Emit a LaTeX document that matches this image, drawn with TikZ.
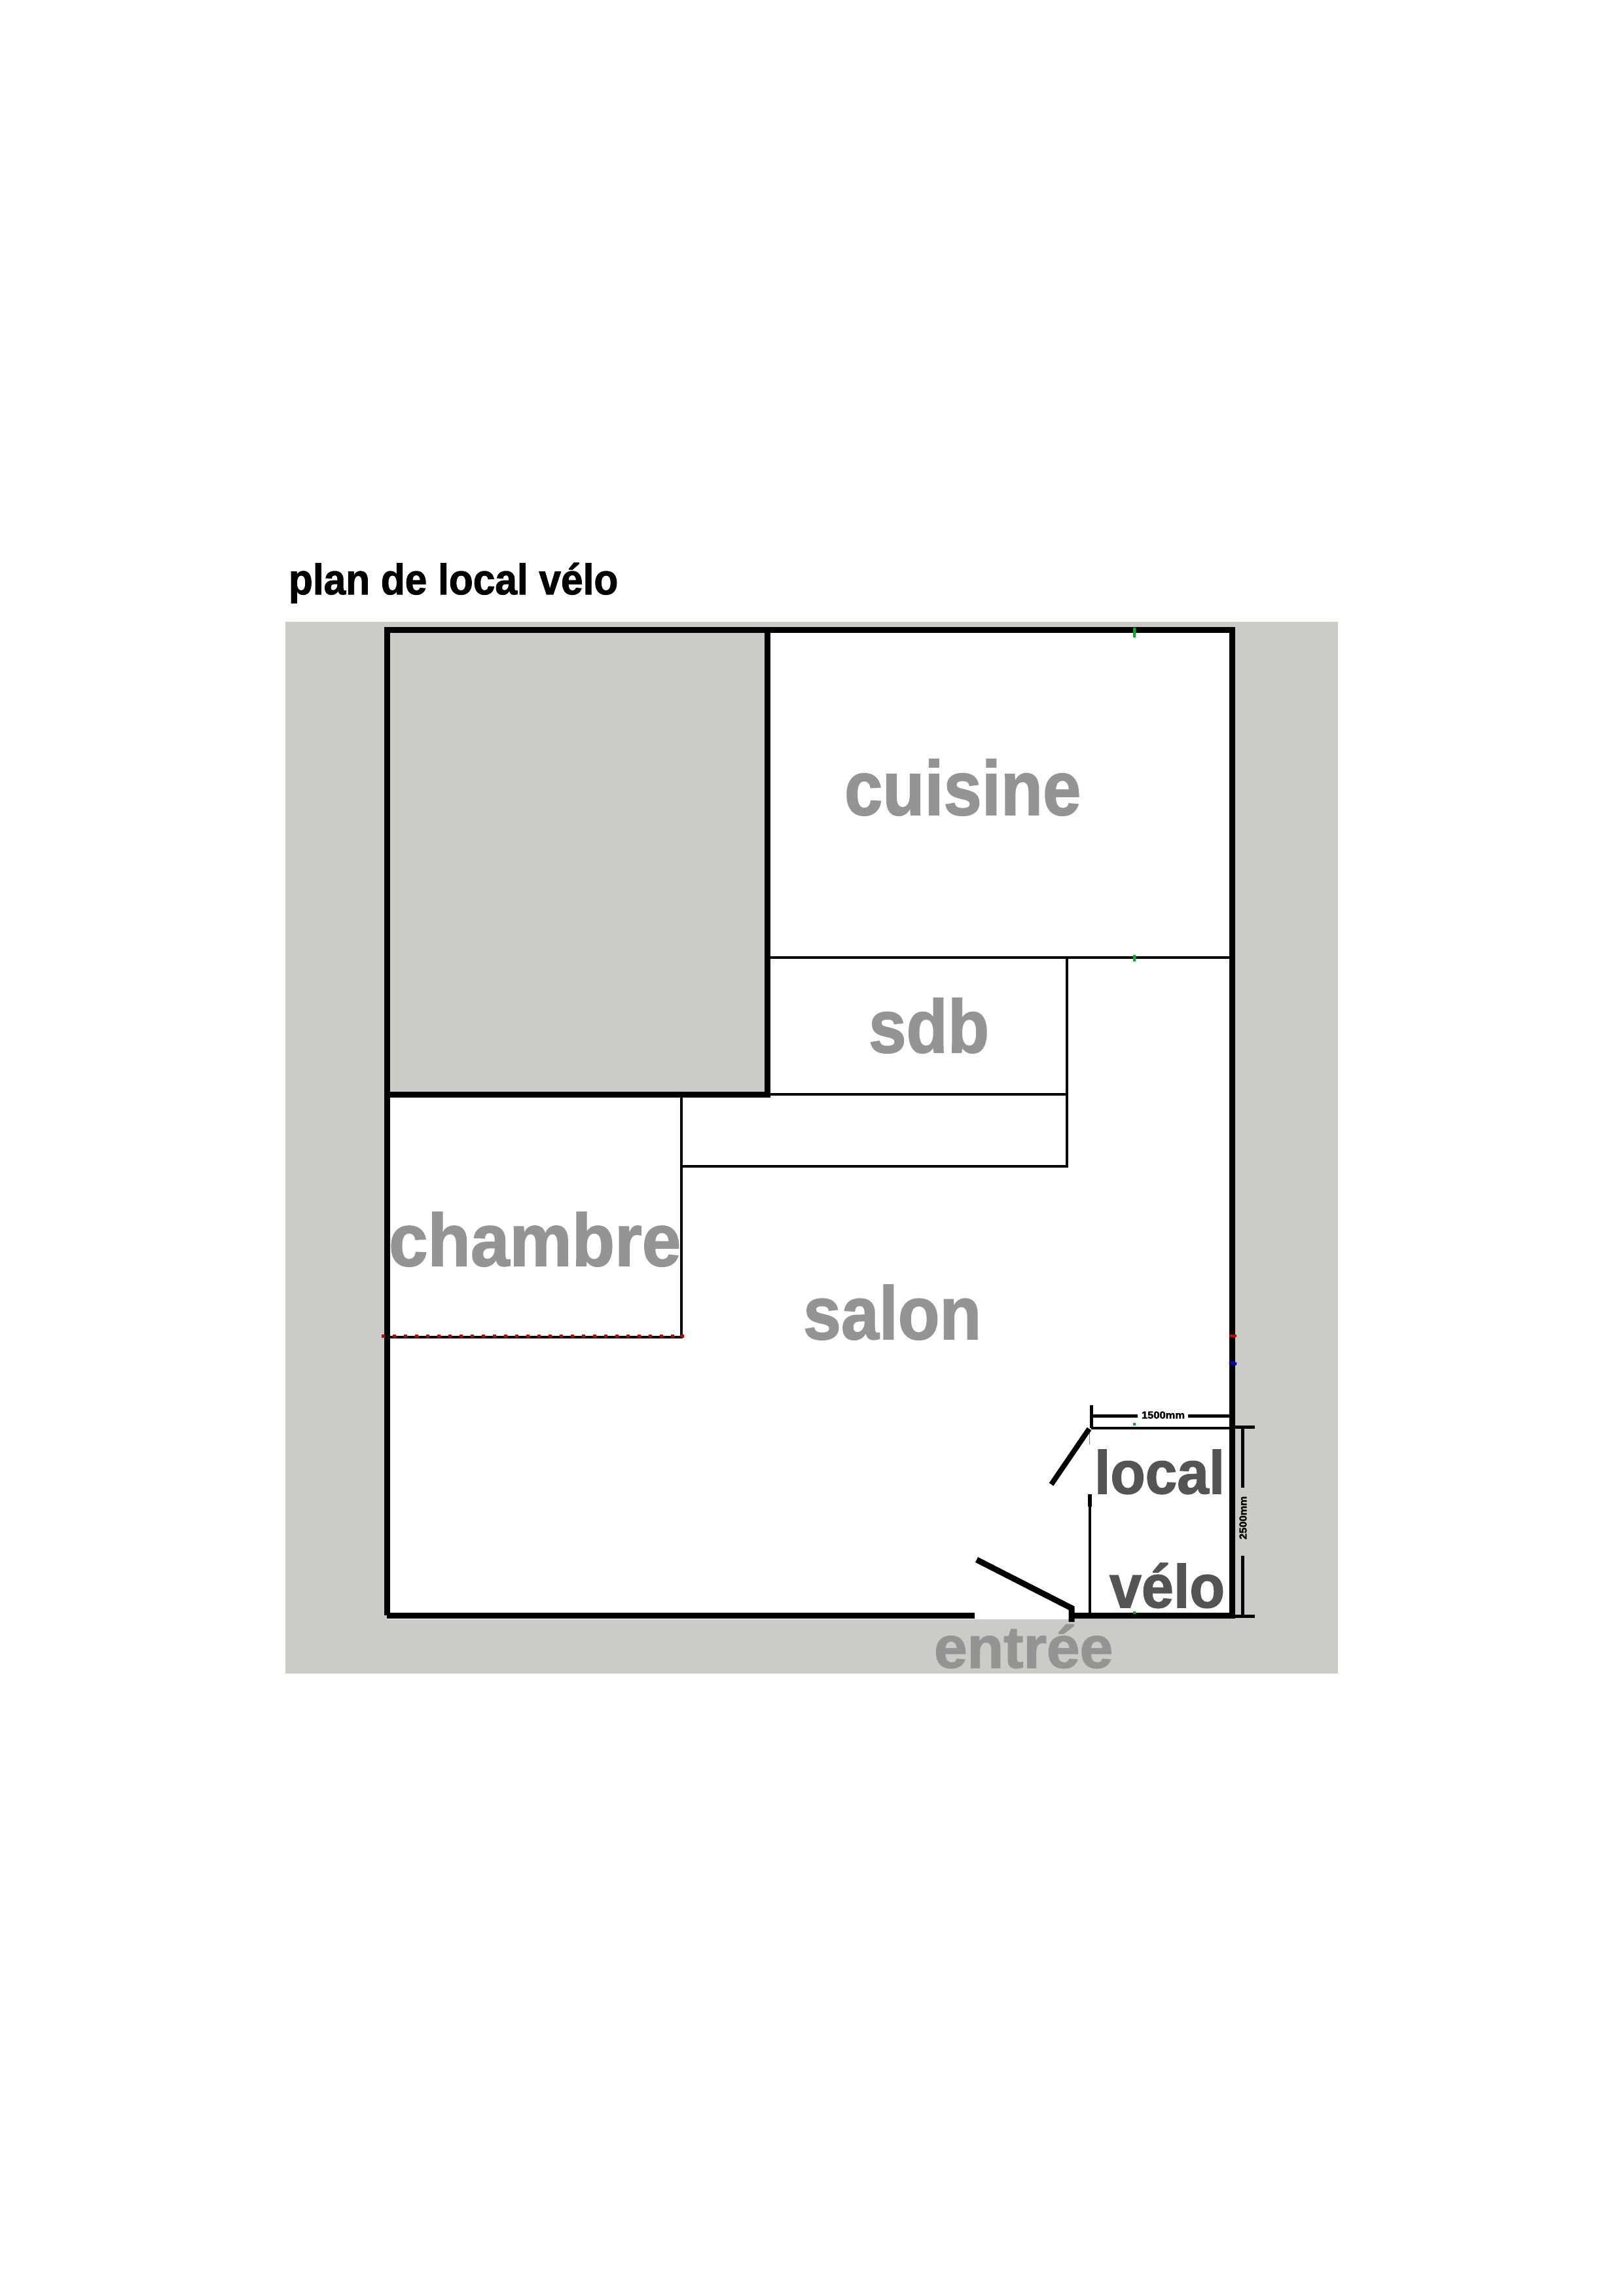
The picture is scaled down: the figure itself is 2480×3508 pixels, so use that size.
\documentclass[tikz,border=0pt]{standalone}
\usepackage{fontspec}
\setmainfont{Liberation Sans}[BoldFeatures={FakeBold=1.6}]
\newcommand{\fitlabel}[3]{\resizebox{#1cm}{#2cm}{\bfseries #3}}
\definecolor{planbg}{HTML}{CBCCC7}
\definecolor{labelgrey}{HTML}{949494}
\definecolor{labeldark}{HTML}{545454}
\definecolor{tickred}{HTML}{C00000}
\definecolor{tickgreen}{HTML}{00B020}
\definecolor{tickblue}{HTML}{0000C0}
\tikzset{
  x=0.01cm,y=-0.01cm,
  wall/.style={line width=0.09cm,draw=black,line cap=square},
  partition/.style={line width=0.04cm,draw=black},
  doorleaf/.style={line width=0.08cm,draw=black},
  dimline/.style={line width=0.05cm,draw=black},
  textlabel/.style={anchor=base west,inner sep=0pt,outer sep=0pt},
  roomlabel/.style={textlabel,text=labelgrey},
  darklabel/.style={textlabel,text=labeldark},
  dimlabel/.style={anchor=center,inner sep=0pt,outer sep=0pt,text=black},
  reddot/.style={fill=tickred,draw=none},
  tick/.style={line width=0.045cm}
}
\begin{document}
\begin{tikzpicture}
\useasboundingbox (0,0) rectangle (2480,3508);
\fill[white] (0,0) rectangle (2480,3508);
% ground
\fill[planbg] (436,950) rectangle (2044,2557);
\fill[white] (1172,962) -- (1882,962) -- (1882,2474) -- (591,2474) -- (591,1672) -- (1172,1672) -- cycle;
\fill[planbg] (1636,2472) rectangle (1882,2478);
% named corners
\coordinate (tl) at (591,962);
\coordinate (tr) at (1882,962);
\coordinate (br) at (1882,2468);
\coordinate (bl) at (591,2468);
\coordinate (gapl) at (1489,2468);
\coordinate (gapr) at (1637,2468);
\coordinate (gt) at (1172,962);
\coordinate (gb) at (1172,1672);
\coordinate (gl) at (591,1672);
% thin partitions
\draw[partition] (1172,1463) -- (1882,1463);
\draw[partition] (1172,1672) -- (1630,1672);
\draw[partition] (1630,1463) -- (1630,1782) -- (1041,1782);
\draw[partition] (1041,1672) -- (1041,2043) -- (591,2043);
\draw[partition] (1667,2182) -- (1882,2182);
\draw[partition] (1665,2283) -- (1665,2468);
\draw[line width=0.055cm] (1665,2283) -- (1665,2302);
\draw[line width=0.01cm,draw=gray] (1664,2183) -- (1664,2207);
% thick walls
\draw[wall] (bl) -- (tl) -- (tr) -- (br) -- (gapr);
\draw[wall] (bl) -- (gapl);
\draw[wall] (gt) -- (gb) -- (gl);
% doors
\draw[doorleaf] (1664,2183) -- (1606,2268);
\draw[line width=0.09cm] (1492,2383) -- (1637,2457) -- (1637,2478);
% dimensions
\draw[dimline] (1667,2147) -- (1667,2182);
\draw[dimline] (1667,2163) -- (1738,2163);
\draw[dimline] (1815,2163) -- (1887,2163);
\draw[dimline] (1882,2180) -- (1917,2180);
\draw[dimline] (1882,2469) -- (1917,2469);
\draw[dimline] (1898,2180) -- (1898,2273);
\draw[dimline] (1898,2377) -- (1898,2469);
\node[dimlabel] (dimw) at (1777,2162) {\fitlabel{0.66}{0.11}{1500mm}};
\node[dimlabel,rotate=90] (dimh) at (1899,2319) {\fitlabel{0.66}{0.11}{2500mm}};
% survey ticks
\draw[tick,draw=tickgreen] (1733,959) -- (1733,974);
\draw[tick,draw=tickgreen] (1733,1459) -- (1733,1469);
\draw[tick,draw=tickgreen] (1731,2176) -- (1735,2176);
\draw[tick,draw=tickgreen] (1731,2464) -- (1735,2464);
\draw[tick,draw=tickred] (1878,2041) -- (1889,2041);
\draw[tick,draw=tickblue] (1878,2081) -- (1889,2084);
\foreach \i in {0,...,26}{\fill[reddot] ({585+17*\i-2.5},2038.5) rectangle ++(5,5);}
\fill[reddot] (1039.5,2038.5) rectangle ++(5,5);
% texts
\node[textlabel,text=black] (title) at (441,908) {\fitlabel{5.03}{0.48}{plan de local vélo}};
\node[roomlabel] (cuisine) at (1290,1245) {\fitlabel{3.61}{0.85}{cuisine}};
\node[roomlabel] (sdb) at (1327,1608) {\fitlabel{1.84}{0.83}{sdb}};
\node[roomlabel] (chambre) at (594,1934) {\fitlabel{4.46}{0.82}{chambre}};
\node[roomlabel] (salon) at (1227,2046) {\fitlabel{2.72}{0.83}{salon}};
\node[roomlabel] (entree) at (1427,2548) {\fitlabel{2.73}{0.66}{entrée}};
\node[darklabel] (local) at (1672,2282) {\fitlabel{1.99}{0.67}{local}};
\node[darklabel] (velo) at (1695,2456) {\fitlabel{1.76}{0.68}{vélo}};
\end{tikzpicture}
\end{document}
